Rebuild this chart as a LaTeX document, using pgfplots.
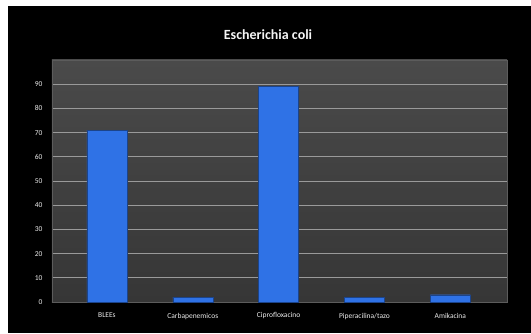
\documentclass[border=0pt]{standalone}
\usepackage{pgfplots}
\pgfplotsset{compat=1.18}
\usepackage{fontspec}
\setmainfont{Carlito}
\definecolor{wall}{HTML}{4A4A4A}
\definecolor{floorc}{HTML}{363636}
\definecolor{gridc}{HTML}{9A9A9A}
\definecolor{barblue}{HTML}{2F72E6}
\begin{document}
\begin{tikzpicture}[x=1pt,y=1pt]
\fill[white] (0,0) rectangle (531,333);
\fill[black] (8,0) rectangle (531,327);
\node[text=white!92!gray,font=\bfseries\fontsize{14}{16}\selectfont] at (268,298) {Escherichia coli};
\begin{axis}[
  at={(52pt,31pt)}, anchor=south west,
  scale only axis, width=455pt, height=242pt,
  xmin=-0.64, xmax=4.66, ymin=0, ymax=100,
  axis background/.style={top color=wall, bottom color=floorc},
  axis line style={gridc!60!black},
  ytick={0,10,...,90},
  ymajorgrids, major grid style={gridc, line width=0.8pt},
  xtick={0,1,2,3,4},
  xticklabels={BLEEs,Carbapenemicos,Ciprofloxacino,Piperacilina/tazo,Amikacina},
  tick style={draw=none},
  ticklabel style={text=white!85!gray, font=\fontsize{7.5}{8}\selectfont},
  /pgf/number format/assume math mode=true,
  xticklabel style={yshift=-3pt},
  yticklabel style={xshift=-6pt},
  ybar, bar width=40pt,
]
\addplot[draw=barblue!60!black, fill=barblue, bar shift=0pt]
  coordinates {(0,71) (1,2) (2,89) (3,2) (4,3)};
\end{axis}
\end{tikzpicture}
\end{document}
